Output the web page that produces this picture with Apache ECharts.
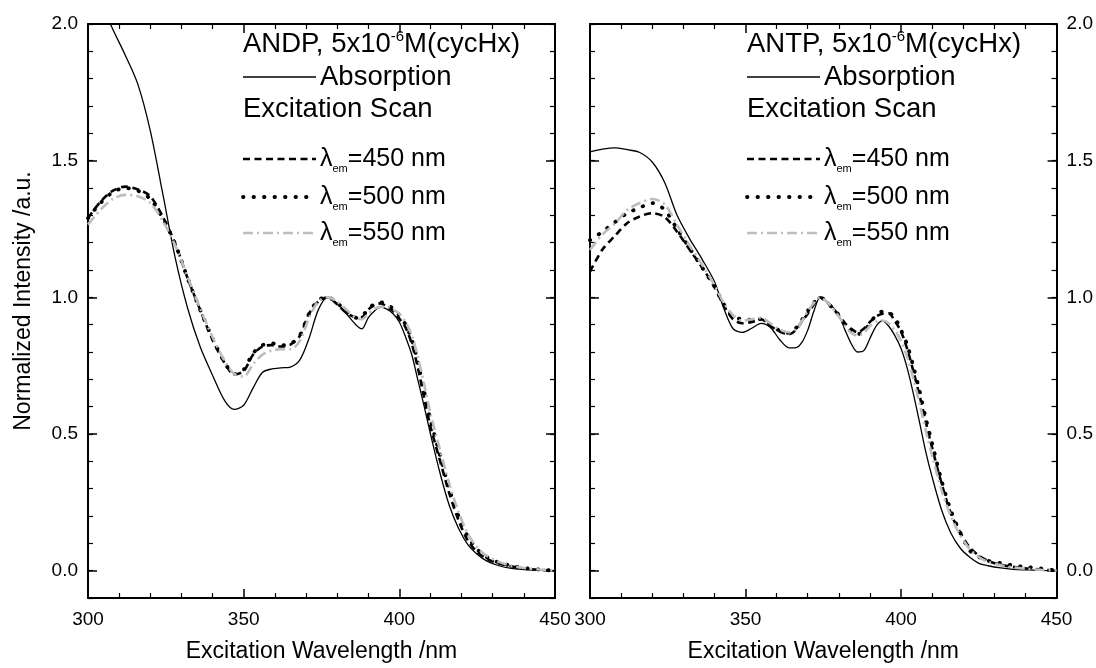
<!DOCTYPE html>
<html><head><meta charset="utf-8">
<script src="https://cdn.jsdelivr.net/npm/echarts@6/dist/echarts.min.js"></script>
<style>html,body{margin:0;padding:0;background:#fff}#c{width:1096px;height:668px}</style>
</head><body><div id="c"></div><script>
const FONT = '"Liberation Sans", Arial, Helvetica, sans-serif';

// ---- tick labels / titles ----
const xTickLabels = [300, 350, 400, 450];
const yTickLabels = [0.0, 0.5, 1.0, 1.5, 2.0];
const xTitle = 'Excitation Wavelength /nm';
const yTitle = 'Normalized Intensity /a.u.';
const panelNames = ['ANDP', 'ANTP'];
const emLabels = ['=450 nm', '=500 nm', '=550 nm'];

// ---- left panel (ANDP) ----
const wlL = [300,304,308,312,316,320,324,328,332,336,340,344,347,350,353,356,359,362,365,368,371,374,377,380,383,386,388,390,392,394,396,398,400,402,404,406,408,410,413,416,419,422,425,428,432,436,440,445,450];
const andpAbs = [2.18,2.08,1.98,1.885,1.78,1.61,1.38,1.145,0.96,0.82,0.715,0.62,0.59,0.605,0.668,0.725,0.738,0.742,0.745,0.77,0.85,0.955,1.0,0.978,0.94,0.90,0.885,0.925,0.95,0.964,0.957,0.94,0.91,0.855,0.79,0.695,0.6,0.5,0.36,0.24,0.155,0.095,0.06,0.036,0.018,0.008,0.004,0.001,0.0];
const andpEx450 = [1.29,1.35,1.39,1.405,1.395,1.37,1.295,1.197,1.07,0.955,0.845,0.757,0.718,0.73,0.79,0.82,0.825,0.82,0.827,0.858,0.94,0.985,1.0,0.975,0.943,0.928,0.928,0.955,0.972,0.978,0.965,0.95,0.922,0.89,0.83,0.74,0.63,0.527,0.405,0.285,0.185,0.11,0.068,0.044,0.026,0.016,0.008,0.003,0.0];
const andpEx500 = [1.29,1.345,1.385,1.40,1.39,1.36,1.29,1.195,1.07,0.955,0.85,0.76,0.72,0.735,0.795,0.825,0.832,0.825,0.83,0.86,0.94,0.99,1.0,0.98,0.948,0.925,0.93,0.958,0.975,0.982,0.975,0.958,0.935,0.9,0.845,0.76,0.655,0.552,0.425,0.3,0.2,0.125,0.078,0.05,0.03,0.018,0.01,0.004,0.0];
const andpEx550 = [1.266,1.32,1.36,1.375,1.37,1.345,1.28,1.19,1.075,0.96,0.855,0.765,0.72,0.71,0.755,0.79,0.805,0.81,0.81,0.84,0.925,0.985,1.0,0.985,0.955,0.925,0.92,0.94,0.958,0.965,0.965,0.955,0.94,0.91,0.86,0.78,0.68,0.575,0.445,0.32,0.215,0.135,0.085,0.055,0.032,0.018,0.01,0.004,0.0];

// ---- right panel (ANTP) ----
const wlR = [300,304,308,312,316,320,324,328,332,336,340,343,346,349,352,355,358,361,364,366,368,370,372,374,376,378,380,382,384,386,388,390,392,394,396,398,400,402,404,406,408,410,413,416,419,422,425,428,432,436,440,445,450];
const antpAbs = [1.532,1.542,1.547,1.54,1.53,1.495,1.42,1.30,1.215,1.14,1.058,0.96,0.885,0.872,0.887,0.905,0.89,0.845,0.815,0.815,0.833,0.88,0.95,1.0,0.985,0.965,0.935,0.88,0.83,0.80,0.805,0.85,0.895,0.914,0.895,0.86,0.813,0.74,0.645,0.54,0.432,0.342,0.223,0.138,0.083,0.05,0.027,0.018,0.01,0.005,0.003,0.001,0.0];
const antpEx450 = [1.094,1.175,1.225,1.272,1.296,1.308,1.294,1.24,1.175,1.11,1.038,0.97,0.92,0.905,0.91,0.92,0.895,0.875,0.865,0.878,0.91,0.94,0.975,1.0,0.985,0.96,0.935,0.905,0.885,0.872,0.885,0.91,0.93,0.94,0.942,0.913,0.875,0.81,0.728,0.638,0.542,0.449,0.32,0.21,0.14,0.086,0.055,0.036,0.021,0.014,0.009,0.004,0.0];
const antpEx500 = [1.209,1.24,1.275,1.308,1.328,1.345,1.32,1.25,1.18,1.11,1.04,0.975,0.93,0.92,0.918,0.92,0.9,0.878,0.87,0.885,0.915,0.95,0.98,1.0,0.985,0.96,0.935,0.9,0.875,0.865,0.875,0.905,0.935,0.948,0.945,0.925,0.88,0.825,0.745,0.655,0.555,0.465,0.33,0.22,0.14,0.075,0.05,0.036,0.028,0.019,0.014,0.008,0.0];
const antpEx550 = [1.173,1.23,1.27,1.32,1.345,1.36,1.34,1.265,1.19,1.12,1.045,0.98,0.935,0.915,0.92,0.925,0.905,0.882,0.872,0.88,0.91,0.95,0.98,1.0,0.985,0.96,0.93,0.895,0.87,0.86,0.87,0.895,0.91,0.915,0.905,0.88,0.84,0.78,0.7,0.61,0.51,0.42,0.295,0.2,0.13,0.08,0.05,0.032,0.02,0.012,0.007,0.003,0.0];

// ---- styles ----
const STY = [
  {color:'#000', width:1.3, type:'solid'},
  {color:'#000', width:2.6, type:[7,4.5]},
  {color:'#000', width:3.8, type:[0.5,10], cap:'round'},
  {color:'#bdbdbd', width:2.6, type:[10,4,2,4]}
];

const grids = [
  {left:88, top:24, width:467, height:577.5},
  {left:590, top:24, width:467, height:577.5}
];

function xAx(g, pos) {
  return {
    type:'value', gridIndex:g, position:pos, min:300, max:450, interval:50,
    axisLine:{show:true, onZero:false, lineStyle:{color:'#000', width:2}},
    axisTick:{show:true, inside:true, length:9, lineStyle:{color:'#000', width:1.5}},
    minorTick:{show:true, splitNumber:5, length:5, lineStyle:{color:'#000', width:1.2}},
    splitLine:{show:false}, minorSplitLine:{show:false},
    axisLabel:{show:pos==='bottom', margin:12, fontSize:19, color:'#000', fontFamily:FONT},
    name: pos==='bottom' ? xTitle : '', nameLocation:'middle', nameGap:42,
    nameTextStyle:{fontSize:23, color:'#000', fontFamily:FONT}
  };
}
function yAx(g, pos, kind, labels) {
  const base = {type:'value', gridIndex:g, position:pos, min:-0.1, max:2.0, interval:0.1,
    splitLine:{show:false}};
  if (kind === 'minor') {
    return Object.assign(base, {
      axisLine:{show:true, onZero:false, lineStyle:{color:'#000', width:2}},
      axisTick:{show:true, inside:true, length:5, lineStyle:{color:'#000', width:1.2}},
      axisLabel: labels ? {show:true, customValues:yTickLabels, formatter:v=>Number(v).toFixed(1),
        margin:10, fontSize:19, color:'#000', fontFamily:FONT} : {show:false}
    });
  }
  return Object.assign(base, {
    axisLine:{show:false, onZero:false},
    axisTick:{show:true, inside:true, length:9, customValues:yTickLabels, lineStyle:{color:'#000', width:1.5}},
    axisLabel:{show:false}
  });
}

const xAxes = [xAx(0,'bottom'), xAx(0,'top'), xAx(1,'bottom'), xAx(1,'top')];
const yAxes = [
  yAx(0,'left','minor',true), yAx(0,'left','major'), yAx(0,'right','minor',false), yAx(0,'right','major'),
  yAx(1,'left','minor',false), yAx(1,'left','major'), yAx(1,'right','minor',true), yAx(1,'right','major')
];

function mk(wl, vals, si, xi, yi) {
  const s = STY[si];
  return {
    type:'line', xAxisIndex:xi, yAxisIndex:yi, showSymbol:false, symbol:'none', smooth:0.3,
    clip:true, silent:true,
    lineStyle:{color:s.color, width:s.width, type:s.type, cap:s.cap || 'butt'},
    data: wl.map((x,i)=>[x, vals[i]])
  };
}
const series = [
  mk(wlL, andpAbs, 0, 0, 0), mk(wlL, andpEx450, 1, 0, 0), mk(wlL, andpEx500, 2, 0, 0), mk(wlL, andpEx550, 3, 0, 0),
  mk(wlR, antpAbs, 0, 2, 4), mk(wlR, antpEx450, 1, 2, 4), mk(wlR, antpEx500, 2, 2, 4), mk(wlR, antpEx550, 3, 2, 4)
];

const RICH = {
  a:{fontSize:27.5, fontFamily:FONT, fill:'#000', lineHeight:30},
  c:{fontSize:25, fontFamily:FONT, fill:'#000', lineHeight:30},
  s:{fontSize:15, fontFamily:FONT, fill:'#000', lineHeight:17, verticalAlign:'top'},
  b:{fontSize:11, fontFamily:FONT, fill:'#000', lineHeight:20, verticalAlign:'bottom'}
};
function txt(x, y, text) {
  return {type:'text', x:x, y:y, silent:true,
    style:{text:text, rich:RICH, fontSize:27, fontFamily:FONT, fill:'#000', align:'left', verticalAlign:'middle'}};
}
function sample(x, y, si) {
  const s = STY[si];
  return {type:'line', silent:true, shape:{x1:x, y1:y, x2:x+73, y2:y},
    style:{stroke:s.color, lineWidth:s.width, lineDash: s.type==='solid' ? null : s.type, lineCap:s.cap || 'butt'}};
}
function legend(x0, name) {
  const rows = [159, 197, 233];
  const els = [
    txt(x0, 44, '{a|' + name + ', 5x10}{s|-6}{a|M(cycHx)}'),
    sample(x0, 77, 0), txt(x0 + 77, 77, '{a|Absorption}'),
    txt(x0, 109, '{a|Excitation Scan}')
  ];
  rows.forEach((y, k) => {
    els.push(sample(x0, y, k + 1));
    els.push(txt(x0 + 77, y, '{c|λ}{b|em}{c|' + emLabels[k] + '}'));
  });
  return els;
}

const graphic = [].concat(
  legend(243, panelNames[0]),
  legend(747, panelNames[1]),
  [{type:'text', x:24, y:301, rotation:Math.PI/2, silent:true,
    style:{text:yTitle, fontSize:23, fontFamily:FONT, fill:'#000', align:'center', verticalAlign:'middle'}}]
);

const chart = echarts.init(document.getElementById('c'), null, {renderer:'canvas'});
chart.setOption({
  animation:false,
  backgroundColor:'#fff',
  grid: grids,
  xAxis: xAxes,
  yAxis: yAxes,
  series: series,
  graphic: graphic
});
</script></body></html>
